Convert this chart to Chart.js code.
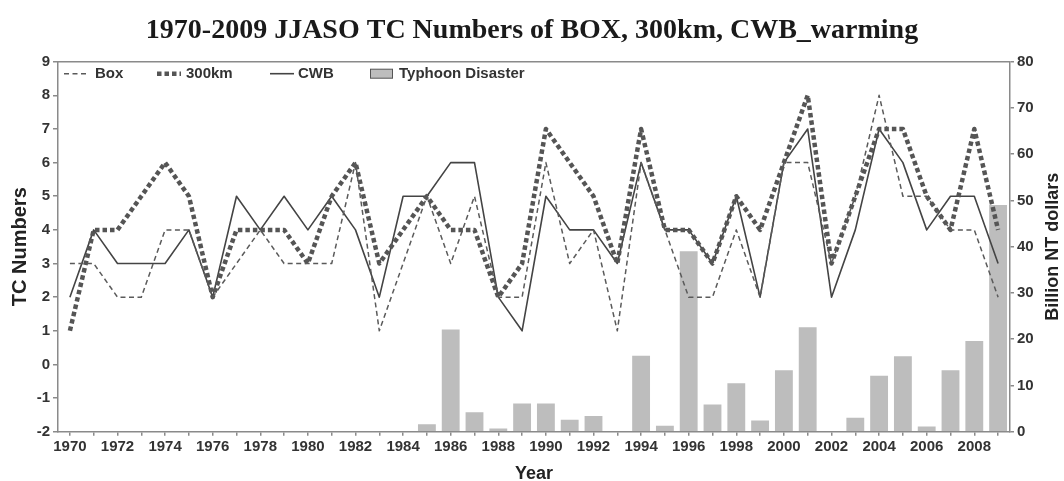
<!DOCTYPE html>
<html><head><meta charset="utf-8">
<script src="https://cdn.jsdelivr.net/npm/chart.js@4.4.0/dist/chart.umd.min.js"></script>
<style>html,body{margin:0;padding:0;background:#fff;} #wrap{width:1064px;height:481px;position:relative;}</style>
</head><body><div id="wrap"><canvas id="c" width="1064" height="481"></canvas></div>
<script>
const years = ["1970","1971","1972","1973","1974","1975","1976","1977","1978","1979",
  "1980","1981","1982","1983","1984","1985","1986","1987","1988","1989",
  "1990","1991","1992","1993","1994","1995","1996","1997","1998","1999",
  "2000","2001","2002","2003","2004","2005","2006","2007","2008","2009"];
const boxCounts = [3,3,2,2,4,4,2,3,4,3, 3,3,6,1,3,5,3,5,2,2, 6,3,4,1,6,4,2,2,4,2, 6,6,3,5,8,5,5,4,4,2];
const km300Counts = [1,4,4,5,6,5,2,4,4,4, 3,5,6,3,4,5,4,4,2,3, 7,6,5,3,7,4,4,3,5,4, 6,8,3,5,7,7,5,4,7,4];
const cwbCounts = [2,4,3,3,3,4,2,5,4,5, 4,5,4,2,5,5,6,6,2,1, 5,4,4,3,6,4,4,3,5,2, 6,7,2,4,7,6,4,5,5,3];
const disasterLoss = [0,0,0,0,0,0,0,0,0,0, 0,0,0,0,0,1.6,22.1,4.2,0.7,6.1, 6.1,2.6,3.4,0,16.4,1.3,39.0,5.9,10.5,2.4, 13.3,22.6,0,3.0,12.1,16.3,1.1,13.3,19.6,49.0];
const leftTicks = {min:-2, max:9, step:1};
const rightTicks = {min:0, max:80, step:10};
const titleText = "1970-2009 JJASO TC Numbers of BOX, 300km, CWB_warming";
const legendNames = ["Box","300km","CWB","Typhoon Disaster"];

const FONT = '"Liberation Sans", Arial, sans-serif';
const AXIS = '#8a8a8a';
const TXT = '#333';

const extras = {
  id: 'extras',
  afterDraw(chart) {
    const {ctx, chartArea: a} = chart;
    ctx.save();
    ctx.strokeStyle = AXIS; ctx.lineWidth = 1.5;
    ctx.beginPath(); ctx.moveTo(a.left, a.top); ctx.lineTo(a.right, a.top); ctx.stroke();
    ctx.fillStyle = '#222';
    ctx.font = 'bold 18px ' + FONT;
    ctx.textAlign = 'center'; ctx.textBaseline = 'middle';
    ctx.translate(a.right + 43, (a.top + a.bottom) / 2);
    ctx.rotate(-Math.PI / 2);
    ctx.fillText("Billion NT dollars", 0, 0);
    ctx.restore();

    ctx.save();
    const y = a.top + 12;
    const sampleX = [64, 157, 270, 370];
    const textX = [95, 186, 298, 399];
    ctx.font = 'bold 15px ' + FONT;
    ctx.textBaseline = 'middle'; ctx.textAlign = 'left';
    const ds = chart.data.datasets;
    for (let i = 0; i < 3; i++) {
      const d = ds[i];
      ctx.strokeStyle = d.borderColor; ctx.lineWidth = d.borderWidth;
      ctx.setLineDash(d.borderDash || []);
      ctx.beginPath(); ctx.moveTo(sampleX[i], y); ctx.lineTo(sampleX[i] + 24, y); ctx.stroke();
    }
    ctx.setLineDash([]);
    ctx.fillStyle = ds[3].backgroundColor;
    ctx.fillRect(sampleX[3], y - 4.5, 23, 9);
    ctx.strokeStyle = '#555'; ctx.lineWidth = 1;
    ctx.strokeRect(sampleX[3] + 0.5, y - 4.5, 22, 9);
    ctx.fillStyle = TXT;
    for (let i = 0; i < 4; i++) ctx.fillText(legendNames[i], textX[i], y);
    ctx.restore();
  }
};

new Chart(document.getElementById('c'), {
  type: 'bar',
  data: {
    labels: years,
    datasets: [
      {type:'line', label:legendNames[0], data: boxCounts, yAxisID:'y', borderColor:'#5a5a5a', borderWidth:1.5, borderDash:[5,3.5], borderJoinStyle:'round', pointRadius:0, tension:0, fill:false, order:1},
      {type:'line', label:legendNames[1], data: km300Counts, yAxisID:'y', borderColor:'#555', borderWidth:4.5, borderDash:[4.5,3], borderJoinStyle:'round', pointRadius:0, tension:0, fill:false, order:2},
      {type:'line', label:legendNames[2], data: cwbCounts, yAxisID:'y', borderColor:'#444', borderWidth:1.6, borderJoinStyle:'round', pointRadius:0, tension:0, fill:false, order:3},
      {type:'bar', label:legendNames[3], data: disasterLoss, yAxisID:'y1', backgroundColor:'#bdbdbd', borderWidth:0, barPercentage:0.75, categoryPercentage:1, order:4}
    ]
  },
  options: {
    responsive: false,
    animation: false,
    devicePixelRatio: 1,
    layout: {padding: {top: 0, right: 0, bottom: 0, left: 0}},
    plugins: {
      legend: {display: false},
      tooltip: {enabled: false},
      title: {display: true, text: titleText, color: '#1a1a1a',
        font: {family: '"Liberation Serif", "Times New Roman", serif', size: 28, weight: 'bold', lineHeight: 1.2},
        padding: {top: 13.5, bottom: 14.6}}
    },
    scales: {
      x: {
        type: 'category', offset: true,
        grid: {display: true, drawOnChartArea: false, drawTicks: true, tickLength: 4, color: AXIS, lineWidth: 1.5, offset: false},
        border: {display: true, color: AXIS, width: 1.5},
        ticks: {autoSkip: false, maxRotation: 0, minRotation: 0, padding: 2, color: TXT,
          font: {family: FONT, size: 15, weight: 'bold', lineHeight: 1.2},
          callback: function(v, i) { return i % 2 === 0 ? years[i] : ''; }},
        title: {display: true, text: 'Year', color: '#222', font: {family: FONT, size: 18, weight: 'bold', lineHeight: 1.2}, padding: {top: 0, bottom: -4}},
        afterFit: s => { s.height = 49.3; }
      },
      y: {
        position: 'left', min: leftTicks.min, max: leftTicks.max,
        grid: {display: true, drawOnChartArea: false, drawTicks: true, tickLength: 5, color: AXIS, lineWidth: 1.5},
        border: {display: true, color: AXIS, width: 1.5},
        ticks: {stepSize: leftTicks.step, padding: 3, color: TXT, font: {family: FONT, size: 15, weight: 'bold'}},
        title: {display: true, text: 'TC Numbers', color: '#222', font: {family: FONT, size: 20, weight: 'bold', lineHeight: 1.2}, padding: {top: 8, bottom: 0}},
        afterFit: s => { s.width = 58; }
      },
      y1: {
        position: 'right', min: rightTicks.min, max: rightTicks.max,
        grid: {display: true, drawOnChartArea: false, drawTicks: true, tickLength: 4, color: AXIS, lineWidth: 1.5},
        border: {display: true, color: AXIS, width: 1.5},
        ticks: {stepSize: rightTicks.step, padding: 3, color: TXT, font: {family: FONT, size: 15, weight: 'bold'}},
        afterFit: s => { s.width = 54; }
      }
    }
  },
  plugins: [extras]
});
</script>
</body></html>
